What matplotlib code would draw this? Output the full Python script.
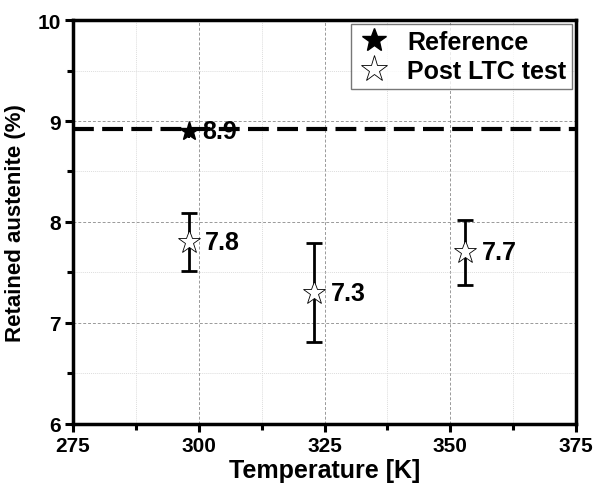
import matplotlib
matplotlib.use('Agg')
import matplotlib.pyplot as plt
from matplotlib.ticker import MultipleLocator

plt.rcParams['font.family'] = ['Liberation Sans', 'DejaVu Sans']
plt.rcParams['font.weight'] = 'bold'

# data
ref_temp = [298]
ref_val = [8.9]
ref_err = [0.07]
ltc_temp = [298, 323, 353]
ltc_val = [7.8, 7.3, 7.7]
ltc_err_low = [0.29, 0.49, 0.32]
ltc_err_high = [0.29, 0.49, 0.32]
labels = ['7.8', '7.3', '7.7']
ref_line = 8.92

fig = plt.figure(figsize=(5.96, 4.89), dpi=100)
ax = fig.add_axes([0.1225, 0.131, 0.844, 0.826])

ax.axhline(ref_line, color='black', lw=3, dashes=(5, 2), zorder=6)

ax.errorbar(ref_temp, ref_val, yerr=ref_err, fmt='none', ecolor='black',
            elinewidth=1.5, capsize=0, zorder=3)
ax.plot(ref_temp, ref_val, ls='none', marker='*', ms=15, mfc='black',
        mec='black', label='Reference', zorder=4)

ax.errorbar(ltc_temp, ltc_val, yerr=[ltc_err_low, ltc_err_high], fmt='none',
            ecolor='black', elinewidth=2, capsize=6, capthick=2, zorder=3)
ax.plot(ltc_temp, ltc_val, ls='none', marker='*', ms=17, mfc='white',
        mec='black', mew=0.6, label='Post LTC test', zorder=4)

ax.annotate('8.9', (ref_temp[0], ref_val[0]), xytext=(10, 0),
            textcoords='offset points', va='center', ha='left',
            fontsize=18, fontweight='bold', zorder=5)
for t, v, s in zip(ltc_temp, ltc_val, labels):
    ax.annotate(s, (t, v), xytext=(12, 0), textcoords='offset points',
                va='center', ha='left', fontsize=18, fontweight='bold')

ax.set_xlim(275, 375)
ax.set_ylim(6, 10)
ax.xaxis.set_major_locator(MultipleLocator(25))
ax.xaxis.set_minor_locator(MultipleLocator(12.5))
ax.yaxis.set_major_locator(MultipleLocator(1))
ax.yaxis.set_minor_locator(MultipleLocator(0.5))

ax.grid(which='major', color='#999999', ls=(0, (3, 2)), lw=0.7)
ax.grid(which='minor', color='#dddddd', ls=(0, (1, 1)), lw=0.7)
ax.set_axisbelow(True)

for sp in ax.spines.values():
    sp.set_linewidth(2.5)
ax.tick_params(which='major', direction='out', length=6, width=2.2,
               labelsize=15, pad=3)
ax.tick_params(which='minor', direction='out', length=4, width=2.2)

ax.set_xlabel('Temperature [K]', fontsize=18, fontweight='bold', labelpad=2)
ax.set_ylabel('Retained austenite (%)', fontsize=16, fontweight='bold',
              labelpad=8)

leg = ax.legend(loc='upper right', fontsize=18, frameon=True, fancybox=False,
                borderaxespad=0.15, handletextpad=0.6, borderpad=0.25,
                labelspacing=0.2, handlelength=1.4, markerscale=1.2)
leg.get_frame().set_edgecolor('#555555')
leg.get_frame().set_linewidth(1)
leg.set_zorder(10)

fig.savefig('out.png', dpi=100)
